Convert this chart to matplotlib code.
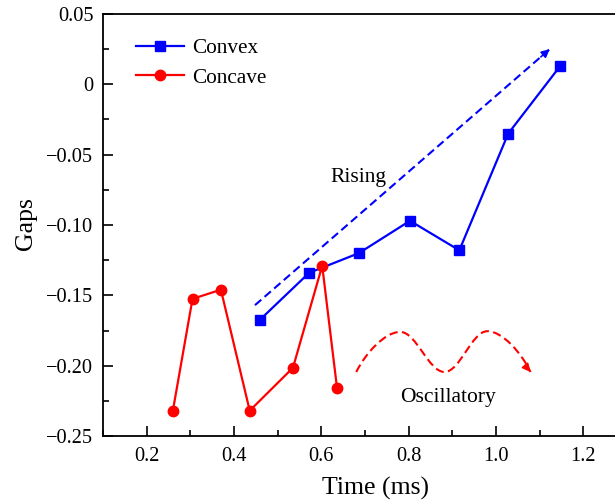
import numpy as np
import matplotlib
matplotlib.use("Agg")
import matplotlib.pyplot as plt
from matplotlib.path import Path
from matplotlib.patches import PathPatch
from matplotlib.ticker import MultipleLocator, FuncFormatter

plt.rcParams['font.family'] = ['Liberation Serif', 'DejaVu Serif']

# -------------------------
# Data
# -------------------------
convex_t = [0.459, 0.572, 0.686, 0.803, 0.916, 1.028, 1.147]
convex_gap = [-0.1675, -0.134, -0.120, -0.097, -0.118, -0.035, 0.013]

concave_t = [0.260, 0.305, 0.370, 0.436, 0.535, 0.602, 0.636]
concave_gap = [-0.232, -0.1525, -0.146, -0.232, -0.2015, -0.129, -0.216]

# trend guides (annotation only)
rising_start = (0.448, -0.157)
rising_end = (1.123, 0.025)
wave_pts = [(0.680, -0.2045), (0.781, -0.1760), (0.882, -0.2045),
            (0.980, -0.1755), (1.079, -0.2045)]

BLUE = '#0000FF'
RED = '#FF0000'
DASH = (0, (4, 2.1))

fig = plt.figure(figsize=(6.15, 5.03), dpi=100)
ax = fig.add_axes([103 / 615, 67 / 503, 524 / 615, 422 / 503])

ax.plot(convex_t, convex_gap, '-s', color=BLUE, lw=1.6, ms=7,
        label='Convex')
ax.plot(concave_t, concave_gap, '-o', color=RED, lw=1.6, ms=7.5,
        label='Concave')

# -------------------------
# Rising arrow
# -------------------------
ax.plot([rising_start[0], rising_end[0]], [rising_start[1], rising_end[1]],
        color=BLUE, lw=1.5, linestyle=DASH)
dx = rising_end[0] - rising_start[0]
dy = rising_end[1] - rising_start[1]
ax.annotate('', xy=rising_end,
            xytext=(rising_end[0] - dx * 0.03, rising_end[1] - dy * 0.03),
            arrowprops=dict(arrowstyle='-|>', color=BLUE, lw=1.2,
                            mutation_scale=12, shrinkA=0, shrinkB=0))
ax.text(0.684, -0.066, 'Rising', fontsize=15.5, ha='center', va='center')

# -------------------------
# Oscillatory wave (bezier through the key points)
# -------------------------
verts = [wave_pts[0]]
codes = [Path.MOVETO]
for i in range(len(wave_pts) - 1):
    x0, y0 = wave_pts[i]
    x1, y1 = wave_pts[i + 1]
    w = x1 - x0
    if i == 0:
        c1 = (x0 + w * 0.2, y0 + (y1 - y0) * 0.45)
    else:
        c1 = (x0 + w * 0.36, y0)
    if i == len(wave_pts) - 2:
        c2 = (x1 - w * 0.2, y1 - (y1 - y0) * 0.45)
    else:
        c2 = (x1 - w * 0.36, y1)
    verts += [c1, c2, (x1, y1)]
    codes += [Path.CURVE4] * 3
ax.add_patch(PathPatch(Path(verts, codes), fill=False, edgecolor=RED,
                       lw=1.5, linestyle=DASH))
ex, ey = wave_pts[-1]
ax.annotate('', xy=(ex, ey), xytext=(ex - 0.012, ey + 0.0045),
            arrowprops=dict(arrowstyle='-|>', color=RED, lw=1.2,
                            mutation_scale=12, shrinkA=0, shrinkB=0))
ax.text(0.89, -0.2225, 'Oscillatory', fontsize=15.5, ha='center',
        va='center')

# -------------------------
# Axes styling
# -------------------------
ax.set_xlim(0.1, 1.3)
ax.set_ylim(-0.25, 0.05)
ax.xaxis.set_major_locator(MultipleLocator(0.2))
ax.xaxis.set_minor_locator(MultipleLocator(0.1))
ax.yaxis.set_major_locator(MultipleLocator(0.05))
ax.yaxis.set_minor_locator(MultipleLocator(0.025))
ax.xaxis.set_major_formatter(FuncFormatter(lambda v, p: f'{v:.1f}'))


def yfmt(v, p):
    if abs(v) < 1e-9:
        return '0'
    return f'{v:.2f}'.replace('-', '\u2212')


ax.yaxis.set_major_formatter(FuncFormatter(yfmt))
ax.tick_params(which='both', direction='in', labelsize=14.7, width=1.2)
ax.tick_params(which='major', length=7)
ax.tick_params(which='minor', length=4.5)
ax.tick_params(axis='x', pad=8)
ax.tick_params(axis='y', pad=7)
for s in ax.spines.values():
    s.set_linewidth(1.3)

ax.set_xlabel('Time (ms)', fontsize=18.5)
ax.set_ylabel('Gaps', fontsize=18.5)
ax.xaxis.set_label_coords((375 - 103) / 524, -(488 - 436) / 422)
ax.yaxis.set_label_coords(-(103 - 26) / 524, (436 - 224) / 422)
ax.xaxis.label.set_va('center')
ax.yaxis.label.set_va('center')

ax.legend(loc='upper left', frameon=False, fontsize=15.3, handlelength=2.26,
          bbox_to_anchor=(0.027, 0.988), borderaxespad=0.5, labelspacing=0.45,
          handletextpad=0.35)

fig.savefig('out.png', dpi=100)
